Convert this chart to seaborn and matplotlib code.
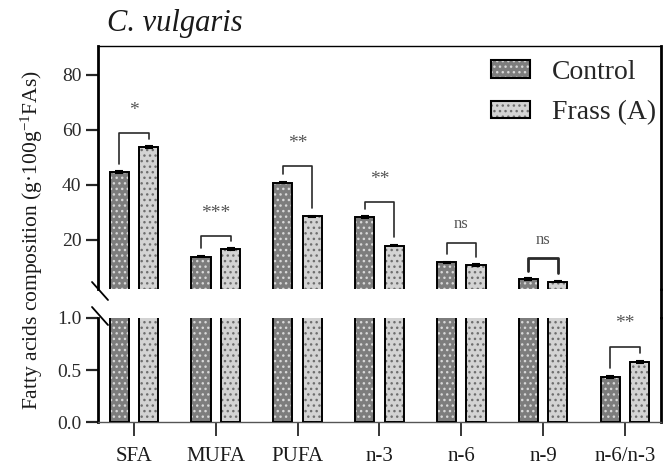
import numpy as np
import pandas as pd
import matplotlib
matplotlib.use('Agg')
import matplotlib.pyplot as plt
import seaborn as sns
from matplotlib.patches import Patch, Rectangle
from matplotlib.legend_handler import HandlerTuple
from matplotlib.lines import Line2D

sns.set_style('white')
plt.rcParams['font.family'] = ['Liberation Serif', 'DejaVu Serif']
plt.rcParams['mathtext.fontset'] = 'custom'
plt.rcParams['mathtext.rm'] = 'Liberation Serif'
plt.rcParams['mathtext.it'] = 'Liberation Serif:italic'
plt.rcParams['hatch.linewidth'] = 1.0

# data
categories = ['SFA', 'MUFA', 'PUFA', 'n-3', 'n-6', 'n-9', 'n-6/n-3']
control = [44.7, 13.9, 40.8, 28.2, 11.8, 5.7, 0.436]
frass = [53.8, 16.7, 28.5, 17.9, 10.9, 4.8, 0.58]
control_err = [0.4, 0.3, 0.3, 0.3, 0.3, 0.3, 0.01]
frass_err = [0.4, 0.4, 0.3, 0.3, 0.3, 0.3, 0.01]
groups = ['Control', 'Frass (A)']
sig_labels = ['*', '***', '**', '**', 'ns', 'ns', '**']
bracket_levels = [58.9, 21.5, 47.0, 33.8, 19.0, 13.3, 0.72]

fill_colors = {'Control': '#7d7d7d', 'Frass (A)': '#d3d3d3'}
dot_colors = {'Control': '#d8d8d8', 'Frass (A)': '#6e6e6e'}

df = pd.DataFrame({
    'fa': categories * 2,
    'value': control + frass,
    'group': [groups[0]] * len(categories) + [groups[1]] * len(categories),
})

fig = plt.figure(figsize=(6.71, 4.66), dpi=100)
ax_top = fig.add_axes([0.146, 0.3798, 0.839, 0.5215])
ax_bot = fig.add_axes([0.146, 0.0944, 0.839, 0.2232])

off = 0.18
for ax in (ax_top, ax_bot):
    sns.barplot(data=df, x='fa', y='value', hue='group', hue_order=groups,
                palette=fill_colors, width=0.72, gap=0.35, errorbar=None,
                legend=False, ax=ax)
    n = len(categories)
    for k, p in enumerate(ax.patches[:2 * n]):
        g = groups[k // n]
        p.set_hatch('...')
        p.set_edgecolor(dot_colors[g])
        p.set_linewidth(0)
        ax.add_patch(Rectangle((p.get_x(), p.get_y()), p.get_width(), p.get_height(),
                               fill=False, edgecolor='black', linewidth=1.4, zorder=3))
    x = np.arange(len(categories))
    ax.errorbar(x - off, control, yerr=control_err, fmt='none', ecolor='black',
                elinewidth=1.2, capsize=3, capthick=1.5, zorder=4)
    ax.errorbar(x + off, frass, yerr=frass_err, fmt='none', ecolor='black',
                elinewidth=1.2, capsize=3, capthick=1.5, zorder=4)
    ax.set_xlim(-0.44, len(categories) - 1 + 0.44)
    ax.set_xlabel('')
    ax.set_ylabel('')

ax_top.set_ylim(2.1, 90.5)
ax_bot.set_ylim(0, 1.0)

# spines
ax_top.spines['bottom'].set_visible(False)
ax_top.spines['left'].set_linewidth(2)
ax_top.spines['right'].set_linewidth(2)
ax_top.spines['top'].set_linewidth(1)
ax_bot.spines['top'].set_visible(False)
ax_bot.spines['left'].set_linewidth(2)
ax_bot.spines['right'].set_linewidth(2)
ax_bot.spines['bottom'].set_linewidth(1)
ax_bot.spines['bottom'].set_color('#555555')
for ax in (ax_top, ax_bot):
    for s in ax.spines.values():
        if s.spine_type != 'bottom':
            s.set_color('black')

ax_top.set_yticks([20, 40, 60, 80])
ax_top.set_xticks([])
ax_bot.set_yticks([0.0, 0.5, 1.0])
ax_bot.set_yticklabels(['0.0', '0.5', '1.0'])
ax_bot.set_xticks(range(len(categories)))
ax_bot.set_xticklabels(categories)
for ax in (ax_top, ax_bot):
    ax.tick_params(axis='y', left=True, length=9, width=1.6, labelsize=14,
                   labelcolor='#2a2a2a', pad=3)
ax_bot.tick_params(axis='x', bottom=True, length=10, width=1.3, labelsize=15,
                   labelcolor='#1a1a1a', pad=8)

# continuous right edge and break marks
x_r = 0.146 + 0.839
fig.add_artist(Line2D([x_r, x_r], [0.3176, 0.3798], color='black', lw=2,
                      transform=fig.transFigure))
for y0, y1 in [(282, 300), (307, 325)]:
    fig.add_artist(Line2D([92 / 671, 108 / 671], [1 - y0 / 466, 1 - y1 / 466],
                          color='black', lw=1.3, transform=fig.transFigure))


# significance brackets
def bracket(ax, i, level, yc, yf, label, gap, rise, lw=1.2):
    xl, xr = i - off, i + off
    ax.plot([xl, xl, xr, xr], [yc + gap, level, level, yf + gap],
            color='#2a2a2a', lw=lw, zorder=5, clip_on=False)
    ax.text(i, level + rise, label, ha='center', va='center',
            fontsize=12 if label == 'ns' else 14, color='#555555', zorder=5)


for i in range(6):
    lab = sig_labels[i]
    bracket(ax_top, i, bracket_levels[i], control[i], frass[i], lab, 3.0,
            6.8 if lab == 'ns' else 8.0, lw=2.0 if i == 5 else 1.2)
bracket(ax_bot, 6, bracket_levels[6], control[6], frass[6], sig_labels[6],
        0.08, 0.23)

# legend
handles = []
for g in groups:
    fillp = Patch(facecolor=fill_colors[g], edgecolor=dot_colors[g], hatch='...', lw=0)
    edge = Patch(facecolor='none', edgecolor='black', lw=1.5)
    handles.append((fillp, edge))
ax_top.legend(handles, groups, handler_map={tuple: HandlerTuple(ndivide=1)},
              loc='upper right', bbox_to_anchor=(1.021, 1.012), frameon=False,
              fontsize=20, handlelength=1.4, handleheight=0.58,
              handletextpad=0.8, labelspacing=0.55, borderaxespad=0.2)

fig.text(32 / 671, 1 - 240 / 466, 'Fatty acids composition (g\u00b7100g$^{\\mathregular{-1}}$FAs)',
         rotation=90, ha='center', va='center', fontsize=15.5, color='#1a1a1a')
fig.text(107 / 671, 1 - 24 / 466, 'C. vulgaris', fontsize=22, style='italic',
         ha='left', va='center', color='#1a1a1a')

fig.savefig('out.png', dpi=100)
